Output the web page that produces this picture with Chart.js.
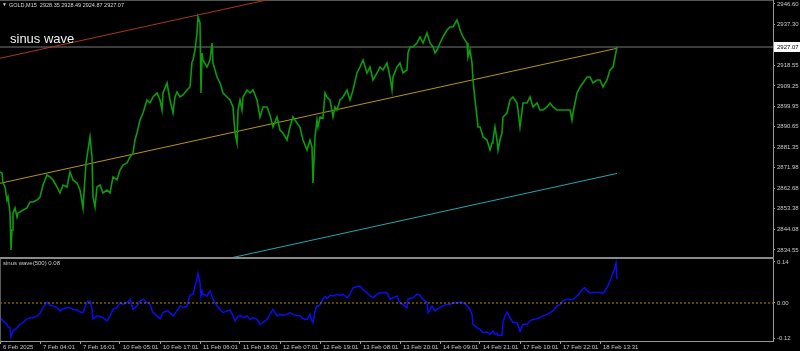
<!DOCTYPE html>
<html>
<head>
  <title>GOLD M15 - sinus wave</title>
  <script src="https://cdn.jsdelivr.net/npm/chart.js"></script>
  <style>
    body { margin: 0; background: #000; width: 800px; height: 351px; overflow: hidden; position: relative; }
    canvas { position: absolute; left: 0; }
    #main { top: 0; }
    #osc { top: 257px; }
  </style>
</head>
<body>
  <canvas id="main" width="800" height="257"></canvas>
  <canvas id="osc" width="800" height="94"></canvas>

  <script>
    // bar index (1 bar per pixel column) and price
    const priceBars = [
      0, 2, 3, 5, 7, 8, 10, 11, 12, 13,
      15, 17, 18, 20, 23, 27, 30, 33, 37, 40,
      43, 47, 50, 53, 57, 60, 63, 67, 70, 73,
      77, 80, 83, 86, 88, 90, 92, 93, 95, 97,
      100, 103, 107, 110, 113, 117, 120, 123, 127, 130,
      133, 135, 137, 140, 143, 147, 150, 153, 157, 160,
      162, 163, 167, 170, 173, 175, 177, 180, 183, 187,
      190, 192, 193, 195, 197, 198, 200, 201, 202, 203,
      207, 210, 212, 213, 217, 220, 223, 227, 230, 233,
      235, 237, 238, 240, 242, 243, 247, 250, 253, 257,
      260, 263, 267, 270, 273, 277, 280, 283, 287, 290,
      293, 297, 300, 303, 307, 310, 312, 313, 315, 317,
      318, 320, 323, 325, 327, 330, 333, 335, 337, 340,
      343, 347, 350, 353, 357, 360, 363, 367, 370, 373,
      377, 380, 383, 387, 390, 392, 393, 397, 400, 403,
      407, 408, 410, 413, 417, 420, 423, 427, 430, 433,
      435, 437, 440, 443, 447, 450, 453, 457, 458, 460,
      463, 467, 468, 470, 472, 473, 475, 477, 478, 480,
      482, 483, 487, 490, 492, 493, 495, 497, 498, 500,
      502, 503, 507, 510, 513, 517, 518, 520, 523, 527,
      530, 533, 537, 540, 543, 547, 550, 553, 557, 560,
      563, 567, 570, 572, 573, 577, 580, 583, 587, 590,
      593, 597, 600, 603, 607, 610, 613, 615, 617
    ];
    const price = [
      2870.07, 2869.62, 2865.06, 2863.24, 2857.32, 2858.69, 2851.40, 2834.54, 2843.65, 2851.40,
      2853.68, 2849.58, 2851.40, 2851.85, 2852.76, 2853.68, 2856.41, 2856.41, 2857.32, 2858.69,
      2864.15, 2868.71, 2867.80, 2866.43, 2863.24, 2860.51, 2864.15, 2863.24, 2870.07, 2866.43,
      2865.06, 2861.87, 2853.68, 2874.17, 2880.09, 2886.02, 2876.91, 2858.69, 2854.13, 2863.24,
      2864.15, 2860.51, 2861.87, 2860.51, 2867.80, 2866.43, 2870.98, 2873.26, 2874.17, 2876.91,
      2878.73, 2884.65, 2887.84, 2893.76, 2896.95, 2902.87, 2901.50, 2904.24, 2906.06, 2902.87,
      2898.31, 2906.06, 2910.61, 2902.87, 2896.95, 2904.24, 2906.51, 2904.24, 2905.15, 2907.42,
      2908.79, 2920.18, 2921.09, 2925.64, 2933.39, 2940.68, 2937.94, 2906.06, 2924.28, 2921.09,
      2917.90, 2921.09, 2928.83, 2919.72, 2913.35, 2910.61, 2906.06, 2904.24, 2902.87, 2899.68,
      2887.84, 2883.28, 2898.31, 2902.87, 2898.31, 2904.24, 2907.42, 2906.06, 2907.42, 2902.87,
      2895.13, 2899.68, 2899.68, 2896.04, 2890.57, 2895.13, 2889.20, 2887.84, 2884.65, 2890.57,
      2895.13, 2892.39, 2890.57, 2884.65, 2880.09, 2884.65, 2881.46, 2865.06, 2886.02, 2893.76,
      2890.57, 2895.13, 2894.67, 2906.06, 2904.24, 2902.87, 2895.13, 2899.68, 2898.31, 2902.87,
      2904.24, 2907.42, 2902.87, 2907.42, 2915.17, 2917.90, 2921.09, 2915.17, 2917.90, 2911.98,
      2915.17, 2917.90, 2916.53, 2919.72, 2913.35, 2907.42, 2913.35, 2917.90, 2919.72, 2915.17,
      2916.53, 2924.28, 2927.01, 2927.01, 2928.83, 2931.57, 2928.83, 2933.39, 2928.83, 2927.01,
      2924.28, 2925.64, 2928.83, 2931.57, 2934.75, 2936.12, 2936.12, 2939.31, 2937.94, 2934.75,
      2931.57, 2928.83, 2922.46, 2925.64, 2919.72, 2911.98, 2902.87, 2895.13, 2890.57, 2890.57,
      2887.84, 2886.02, 2884.65, 2880.09, 2883.28, 2884.65, 2890.57, 2884.65, 2880.09, 2884.65,
      2887.84, 2895.13, 2896.95, 2902.87, 2904.24, 2901.50, 2898.31, 2890.57, 2901.50, 2901.50,
      2904.24, 2899.68, 2901.50, 2898.31, 2898.31, 2899.68, 2901.50, 2899.68, 2898.31, 2898.31,
      2898.31, 2898.31, 2898.31, 2893.76, 2896.95, 2906.06, 2908.79, 2910.61, 2913.35, 2913.35,
      2910.61, 2911.98, 2911.98, 2908.79, 2911.98, 2916.53, 2917.90, 2922.46, 2927.07
    ];
    const lastClose = 2927.07;
    const ohlcText = "GOLD,M15  2928.35 2928.49 2924.87 2927.07";

    // regression channel end points
    const chanBars = [0, 617];
    const chanUpper = [2921.87, 2983.36];
    const chanMid = [2864.93, 2926.42];
    const chanLower = [2807.93, 2869.42];

    // sinus wave(500) indicator
    const oscBars = [
      0, 3, 7, 8, 10, 11, 13, 17, 20, 23,
      27, 30, 33, 37, 40, 43, 47, 50, 53, 57,
      60, 63, 67, 70, 73, 77, 80, 83, 86, 88,
      90, 92, 93, 97, 100, 103, 107, 110, 113, 117,
      120, 123, 127, 130, 132, 133, 137, 140, 143, 147,
      150, 153, 157, 160, 163, 167, 170, 173, 177, 180,
      183, 187, 190, 193, 195, 197, 198, 200, 201, 202,
      203, 207, 210, 213, 217, 220, 223, 227, 230, 233,
      235, 237, 240, 243, 247, 250, 253, 257, 260, 263,
      267, 270, 273, 277, 280, 283, 287, 290, 293, 297,
      300, 303, 307, 310, 312, 313, 315, 317, 318, 320,
      323, 325, 327, 330, 333, 337, 340, 343, 347, 350,
      353, 357, 360, 363, 367, 370, 373, 377, 380, 383,
      387, 390, 393, 397, 400, 403, 407, 408, 410, 413,
      417, 420, 423, 427, 428, 430, 432, 435, 437, 440,
      443, 447, 450, 453, 457, 460, 463, 467, 470, 472,
      473, 477, 480, 483, 487, 490, 493, 495, 497, 498,
      502, 503, 505, 507, 510, 513, 517, 520, 523, 527,
      530, 533, 537, 540, 543, 547, 550, 553, 557, 560,
      563, 567, 570, 573, 577, 580, 583, 585, 587, 590,
      593, 597, 600, 603, 607, 610, 613, 615, 616, 617
    ];
    const oscVals = [
      -0.050, -0.061, -0.073, -0.081, -0.084, -0.115, -0.096, -0.084, -0.073, -0.067,
      -0.054, -0.050, -0.050, -0.044, -0.035, -0.016, 0.003, -0.008, -0.010, -0.016,
      -0.027, -0.019, -0.016, -0.016, -0.022, -0.024, -0.031, -0.033, -0.005, 0.007,
      0.007, -0.020, -0.054, -0.044, -0.047, -0.050, -0.061, -0.044, -0.022, -0.016,
      0.001, -0.005, 0.001, 0.013, -0.010, -0.022, -0.010, 0.007, 0.013, 0.001,
      -0.005, -0.033, -0.044, -0.054, -0.033, -0.027, -0.033, -0.044, -0.027, -0.010,
      -0.016, -0.010, 0.026, 0.030, 0.058, 0.081, 0.101, 0.069, 0.024, 0.041,
      0.030, 0.024, 0.041, 0.013, -0.010, -0.022, -0.033, -0.027, -0.024, -0.044,
      -0.061, -0.050, -0.042, -0.050, -0.044, -0.056, -0.050, -0.056, -0.073, -0.067,
      -0.056, -0.039, -0.022, -0.044, -0.039, -0.042, -0.039, -0.033, -0.039, -0.044,
      -0.044, -0.054, -0.056, -0.039, -0.061, -0.067, -0.027, -0.010, -0.012, -0.005,
      0.013, 0.022, 0.015, 0.026, 0.024, 0.030, 0.026, 0.030, 0.018, 0.030,
      0.052, 0.056, 0.058, 0.047, 0.035, 0.024, 0.018, 0.030, 0.035, 0.036,
      0.035, 0.013, 0.018, 0.024, -0.001, -0.005, -0.016, 0.013, 0.015, 0.018,
      0.030, 0.026, 0.013, 0.001, -0.033, -0.022, -0.010, -0.027, -0.022, -0.016,
      -0.010, -0.005, -0.005, 0.001, 0.000, 0.003, 0.001, -0.008, -0.022, -0.039,
      -0.073, -0.084, -0.090, -0.101, -0.099, -0.107, -0.096, -0.107, -0.103, -0.110,
      -0.110, -0.067, -0.044, -0.031, -0.050, -0.067, -0.067, -0.096, -0.073, -0.073,
      -0.061, -0.056, -0.054, -0.050, -0.044, -0.039, -0.033, -0.027, -0.010, -0.005,
      0.007, 0.013, 0.012, 0.012, 0.024, 0.035, 0.049, 0.052, 0.041, 0.035,
      0.036, 0.036, 0.036, 0.033, 0.052, 0.075, 0.103, 0.121, 0.136, 0.080
    ];
    const oscLevel = 0;
    const oscLabel = "sinus wave(500) 0.08";

    // axis ticks
    const priceTicks = [2946.60, 2937.30, 2918.55, 2909.25, 2899.95, 2890.65, 2881.35, 2871.98, 2862.68, 2853.38, 2844.08, 2834.55];
    const oscTicks = [0.14, 0.00, -0.12];
    const labelBars = [0, 40, 80, 120, 160, 200, 240, 280, 320, 360, 400, 440, 480, 520, 560, 600];
    const timeLabels = ["6 Feb 2025", "7 Feb 04:01", "7 Feb 16:01", "10 Feb 05:01", "10 Feb 17:01", "11 Feb 06:01",
      "11 Feb 18:01", "12 Feb 07:01", "12 Feb 19:01", "13 Feb 08:01", "13 Feb 20:01", "14 Feb 09:01",
      "14 Feb 21:01", "17 Feb 10:01", "17 Feb 22:01", "18 Feb 13:31"];

    const FONT = "'Liberation Sans', Arial, sans-serif";
    const AXIS = '#9a9a9a';
    const TXT = '#c8c8c8';
    Chart.defaults.font.family = FONT;
    Chart.defaults.font.size = 6;
    Chart.defaults.color = TXT;

    const pts = (xs, ys) => xs.map((x, i) => ({ x: x, y: ys[i] }));

    function rightAxis(min, max, tickVals) {
      return {
        position: 'right', min: min, max: max,
        afterBuildTicks: s => { s.ticks = tickVals.map(v => ({ value: v })); },
        afterFit: s => { s.width = 27; s.paddingTop = 0; s.paddingBottom = 0; },
        ticks: { callback: v => v.toFixed(2), padding: 2, color: TXT, font: { size: 6 } },
        grid: { drawOnChartArea: false, tickLength: 2, color: AXIS },
        border: { color: AXIS }
      };
    }

    const mainDecor = {
      id: 'mainDecor',
      beforeDatasetsDraw(chart) {
        const { ctx, chartArea: a, scales: { y } } = chart;
        const py = Math.round(y.getPixelForValue(lastClose));
        ctx.save();
        ctx.fillStyle = '#3c3c3c';
        ctx.fillRect(a.left, py - 1, a.right - a.left, 2);
        ctx.fillStyle = '#555';
        ctx.fillRect(a.left, 0, a.right - a.left, 1);
        ctx.restore();
      },
      afterDraw(chart) {
        const { ctx, chartArea: a, scales: { y } } = chart;
        const py = Math.round(y.getPixelForValue(lastClose));
        ctx.save();
        // current price box
        ctx.fillStyle = '#ffffff';
        ctx.fillRect(a.right + 1, py - 5, 27, 10);
        ctx.fillStyle = '#000000';
        ctx.font = '6px ' + FONT;
        ctx.textBaseline = 'middle';
        ctx.fillText(lastClose.toFixed(2), a.right + 4, py);
        // symbol line
        ctx.fillStyle = '#d8d8d8';
        ctx.font = '5px ' + FONT;
        ctx.fillText('▼', 2, 5);
        ctx.font = '5.5px ' + FONT;
        ctx.fillText(ohlcText, 9, 5);
        // indicator caption
        ctx.fillStyle = '#f0f0f0';
        ctx.font = '13px ' + FONT;
        ctx.fillText('sinus wave', 10, 39);
        ctx.restore();
      }
    };

    const oscDecor = {
      id: 'oscDecor',
      afterDraw(chart) {
        const { ctx, chartArea: a } = chart;
        ctx.save();
        ctx.fillStyle = '#8a8a8a';
        ctx.fillRect(0, 0, a.right + 1, 2);
        ctx.fillStyle = '#5a5a5a';
        ctx.fillRect(0, a.top, 1, a.bottom - a.top);
        ctx.fillStyle = TXT;
        ctx.font = '6px ' + FONT;
        ctx.textBaseline = 'middle';
        ctx.fillText(oscLabel, 3, 6);
        ctx.restore();
      }
    };

    new Chart(document.getElementById('main'), {
      type: 'line',
      data: {
        datasets: [
          { data: pts(priceBars, price), borderColor: '#0c9c0c', borderWidth: 1.6, pointRadius: 0 },
          { data: pts(chanBars, chanUpper), borderColor: '#a8381a', borderWidth: 1, pointRadius: 0 },
          { data: pts(chanBars, chanMid), borderColor: '#b8960e', borderWidth: 1, pointRadius: 0 },
          { data: pts(chanBars, chanLower), borderColor: '#22a6ae', borderWidth: 1, pointRadius: 0 }
        ]
      },
      options: {
        responsive: false,
        animation: false,
        devicePixelRatio: 1,
        layout: { padding: 0 },
        plugins: { legend: { display: false }, tooltip: { enabled: false } },
        scales: {
          x: { type: 'linear', min: 0, max: 773, display: false },
          y: rightAxis(2831.35, 2948.42, priceTicks)
        }
      },
      plugins: [mainDecor]
    });

    new Chart(document.getElementById('osc'), {
      type: 'line',
      data: {
        datasets: [
          { data: pts([0, 773], [oscLevel, oscLevel]), borderColor: '#b08a10', borderWidth: 1, borderDash: [2, 2], pointRadius: 0 },
          { data: pts(oscBars, oscVals), borderColor: '#0c0cf0', borderWidth: 1.5, pointRadius: 0 }
        ]
      },
      options: {
        responsive: false,
        animation: false,
        devicePixelRatio: 1,
        layout: { padding: { top: 2 } },
        plugins: { legend: { display: false }, tooltip: { enabled: false } },
        scales: {
          x: {
            type: 'linear', min: 0, max: 773, position: 'bottom',
            afterBuildTicks: s => { s.ticks = labelBars.map(v => ({ value: v })); },
            afterFit: s => { s.height = 10; s.paddingLeft = 0; s.paddingRight = 0; },
            ticks: { autoSkip: false, maxRotation: 0, align: 'start', labelOffset: 3, padding: 0,
              color: TXT, font: { size: 6 }, callback: (v, i) => timeLabels[i] },
            grid: { drawOnChartArea: false, tickLength: 3, color: AXIS },
            border: { color: AXIS }
          },
          y: rightAxis(-0.1298, 0.1502, oscTicks)
        }
      },
      plugins: [oscDecor]
    });
  </script>
</body>
</html>
